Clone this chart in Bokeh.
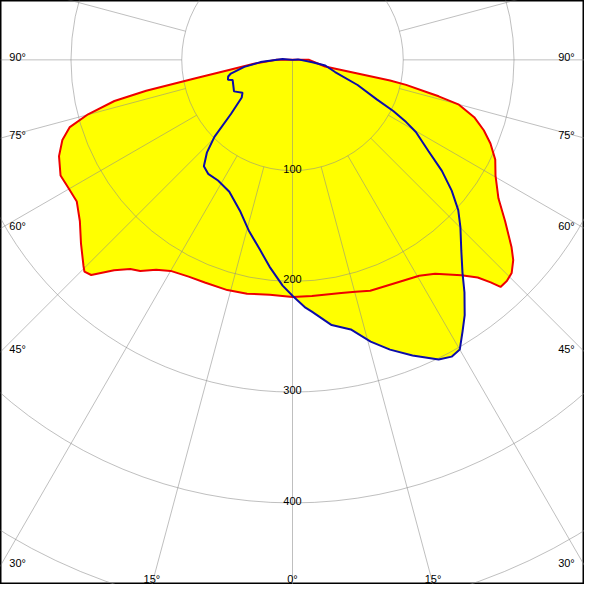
import numpy as np
from bokeh.plotting import figure
from bokeh.models import Range1d
from bokeh.embed import file_html
from bokeh.resources import INLINE
from bokeh.core.properties import value

# C0-C180 plane (red outline): signed gamma in degrees (negative = C180 side), intensity in cd
red_gamma = [-180, -90, -84.3, -80.9, -79.2, -78.1, -77.0, -75.1, -73.2, -70.8,
             -67.6, -63.5, -60.1, -56.7, -52.8, -49.0, -45.4, -44.5, -43.1, -40.3,
             -37.8, -35.8, -33.0, -30.0, -25.6, -21.5, -15.8, -11.0, -5.5, 0,
             4.7, 11.8, 15.2, 18.6, 25.0, 30.4, 33.7, 38.1, 40.4, 41.7,
             42.5, 44.1, 45.8, 47.8, 49.5, 52.8, 56.1, 60.3, 63.8, 67.1,
             69.8, 72.5, 75.0, 76.0, 76.4, 77.6, 78.1, 78.2, 78.5, 90, 180]
red_cd = [0, 15, 35, 59, 90, 135, 165, 191, 210, 220,
          228, 234, 233, 233, 241, 253, 265, 268, 266, 249,
          239, 235, 226, 220, 217, 216, 216, 215, 213, 214,
          214, 215, 217, 220, 222, 226, 232, 247, 258, 269,
          278, 278, 276, 269, 260, 241, 224, 211, 204, 194,
          184, 172, 155, 136, 127, 105, 90, 60, 30, 15, 0]

# C90-C270 plane (blue outline)
blue_gamma = [-180, -95, -86.0, -81.7, -77.5, -75.5, -72.8, -71.5, -64.2, -61.7,
              -56.7, -53.5, -48.7, -45.4, -42.7, -39.8, -36.5, -31.7, -25.6, -18.9,
              -14.4, -9.7, -6.3, -2.5, 0, 3.0, 4.4, 8.4, 12.2, 15.5,
              18.6, 22.1, 26.0, 28.2, 30.0, 32.1, 34.0, 36.5, 38.6, 41.5,
              45.1, 47.8, 50.6, 53.4, 56.1, 59.7, 61.3, 63.1, 64.9, 68.9,
              74.1, 80.3, 83.4, 95, 180]
blue_cd = [0, 9, 29, 44, 57, 60, 61, 57, 59, 60,
           54, 57, 74, 99, 114, 125, 128, 128, 132, 145,
           159, 174, 188, 204, 213, 224, 228, 242, 249, 264,
           276, 288, 301, 304, 302, 289, 278, 261, 246, 230,
           214, 202, 186, 168, 148, 129, 117, 102, 84, 63,
           40, 30, 18, 5, 0]

ring_values = [100, 200, 300, 400, 500]
ring_labels = ["100", "200", "300", "400"]
angle_ticks = [0, 15, 30, 45, 60, 75, 90]
spoke_angles = [-105, -90, -75, -60, -45, -30, -15, 0, 15, 30, 45, 60, 75, 90, 105]

# ---- geometry of the view (reference: 600 px, 1.138 px per cd, pole at (300, 61)) ----
PX = 1 / 1.138
X_HALF = 300 * PX
Y_TOP = 61 * PX
Y_BOT = -539 * PX


def to_xy(gam, cd):
    g = np.radians(np.asarray(gam, dtype=float))
    r = np.asarray(cd, dtype=float)
    return r * np.sin(g), -r * np.cos(g)


p = figure(width=584, height=584, output_backend="svg", toolbar_location=None,
           x_range=Range1d(-X_HALF, X_HALF), y_range=Range1d(Y_BOT, Y_TOP),
           x_axis_type=None, y_axis_type=None, min_border=0)
p.grid.visible = False
p.background_fill_color = "white"
p.border_fill_color = "white"
p.outline_line_color = "black"
p.outline_line_width = 2

rx, ry = to_xy(red_gamma, red_cd)
bx, by = to_xy(blue_gamma, blue_cd)

# yellow fills
p.patch(list(rx), list(ry), fill_color="#ffff00", line_color=None)
p.patch(list(bx), list(by), fill_color="#ffff00", line_color=None)

# grid
GRID = dict(line_color="#8a8a8a", line_alpha=0.55, line_width=1)
p.circle(x=[0] * len(ring_values), y=[0] * len(ring_values), radius=ring_values,
         fill_color=None, **GRID)
sx, sy = [], []
for a in spoke_angles:
    r0 = 0 if a == 0 else ring_values[0]
    gx, gy = to_xy([a, a], [r0, 900])
    sx.append(list(gx))
    sy.append(list(gy))
p.multi_line(sx, sy, **GRID)

# curves
p.line(list(rx), list(ry), line_color="#ee0000", line_width=2)
p.line(list(bx), list(by), line_color="#0c0ca8", line_width=2)

FONT = dict(text_font=value("Liberation Sans"), text_font_size=value("11px"),
            text_color="black", text_baseline="alphabetic")

# ring labels
p.text(x=[0] * len(ring_labels),
       y=[-v + 2 * PX for v in ring_values[:len(ring_labels)]],
       text=ring_labels, text_align="center", **FONT)

# angle labels at the frame edge
groups = {"left": ([], [], []), "right": ([], [], []), "center": ([], [], [])}
for a in angle_ticks:
    sa, ca = np.sin(np.radians(a)), np.cos(np.radians(a))
    for s in ([-1, 1] if a else [1]):
        yh = -X_HALF / sa * ca if sa > 1e-9 else -1e9
        if yh >= Y_BOT:
            if s < 0:
                key, x = "left", -X_HALF + 9 * PX
            else:
                key, x = "right", X_HALF - 10 * PX
            y = yh + 3 * PX
        else:
            key = "center"
            x = s * (-Y_BOT) / ca * sa
            y = Y_BOT + 6 * PX
        groups[key][0].append(x)
        groups[key][1].append(y)
        groups[key][2].append(f"{a}°")
for key, (xs, ys, ts) in groups.items():
    if ts:
        p.text(x=xs, y=ys, text=ts, text_align=key, **FONT)

open("out.html", "w").write(file_html(p, INLINE))
